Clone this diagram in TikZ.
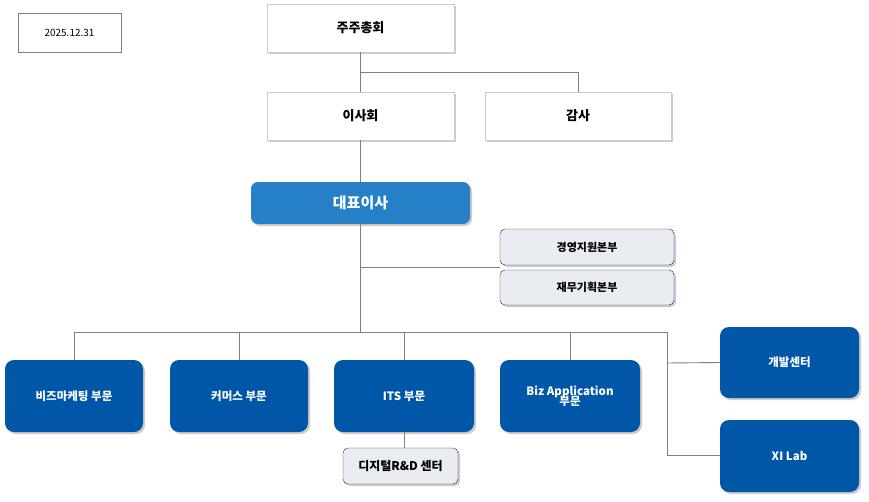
\documentclass[tikz,border=0pt]{standalone}
\usepackage{fontspec}
\setmainfont{Noto Sans CJK KR}
\usetikzlibrary{shadows}
\definecolor{blu}{HTML}{0057A8}
\definecolor{ceo}{HTML}{2680C8}
\definecolor{lg}{HTML}{E9ECF1}
\definecolor{nav}{HTML}{1F2D4A}
\begin{document}
\begin{tikzpicture}[x=1pt,y=-1pt,
 wbox/.style={draw=black!20,fill=white,drop shadow={shadow xshift=2pt,shadow yshift=-2pt,opacity=.4},font=\bfseries\fontsize{13}{14}\selectfont},
 bbox/.style={fill=blu,rounded corners=9pt,text=white,drop shadow={shadow xshift=2pt,shadow yshift=-2pt,opacity=.4},font=\bfseries\fontsize{11.5}{13}\selectfont,align=center},
 gbox/.style={draw=nav,fill=lg,rounded corners=5pt,drop shadow={shadow xshift=2pt,shadow yshift=-2pt,opacity=.4},font=\bfseries\fontsize{11}{13}\selectfont},
 ln/.style={draw=black!50,line width=0.9pt}]
\useasboundingbox (0,0) rectangle (869,501);
\fill[white] (0,0) rectangle (869,501);
\node[draw=black!50,minimum width=103pt,minimum height=39pt,font=\fontsize{10}{12}\selectfont] (date) at (69.5,32.5) {2025.12.31};
\node[wbox,minimum width=187pt,minimum height=48pt] (gm) at (360.5,28) {주주총회};
\node[wbox,minimum width=187pt,minimum height=48pt] (bd) at (360.5,116) {이사회};
\node[wbox,minimum width=186pt,minimum height=48pt] (au) at (578,116) {감사};
\node[bbox,fill=ceo,rounded corners=7pt,minimum width=219pt,minimum height=42pt,font=\bfseries\fontsize{15}{16}\selectfont] (ceo) at (360.5,203) {대표이사};
\node[gbox,minimum width=174pt,minimum height=36pt] (g1) at (587,247) {경영지원본부};
\node[gbox,minimum width=174pt,minimum height=35pt] (g2) at (587,287.5) {재무기획본부};
\node[bbox,minimum width=138pt,minimum height=72pt] (b1) at (74,396) {비즈마케팅 부문};
\node[bbox,minimum width=138pt,minimum height=72pt] (b2) at (239,396) {커머스 부문};
\node[bbox,minimum width=140pt,minimum height=72pt] (b3) at (404,396) {ITS 부문};
\node[bbox,minimum width=140pt,minimum height=72pt] (b4) at (570,396) {Biz Application\\[-3pt]부문};
\node[bbox,minimum width=139pt,minimum height=71pt] (b5) at (789.5,362.5) {개발센터};
\node[bbox,minimum width=139pt,minimum height=72pt] (b6) at (789.5,456) {XI Lab};
\node[gbox,minimum width=115pt,minimum height=36pt,font=\bfseries\fontsize{12}{13}\selectfont] (rd) at (400.5,466) {디지털R\&D 센터};
\coordinate (j1) at (360.5,72);
\coordinate (j2) at (360.5,267);
\coordinate (j3) at (360.5,332);
\coordinate (k) at (667,332);
\draw[ln] (gm.south) -- (bd.north);
\draw[ln] (j1) -| (au.north);
\draw[ln] (bd.south) -- (ceo.north);
\draw[ln] (ceo.south) -- (j3);
\draw[ln] (j2) -- (500,267);
\draw[ln] (b1.north) |- (k) -- (667,455);
\draw[ln] (j3 -| b2.north) -- (b2.north);
\draw[ln] (j3 -| b3.north) -- (b3.north);
\draw[ln] (j3 -| b4.north) -- (b4.north);
\draw[ln] (667,363) -- (b5.west);
\draw[ln] (667,455) -- (b6.west |- 0,455);
\draw[ln] (b3.south) -- (b3.south |- rd.north);
\end{tikzpicture}
\end{document}
